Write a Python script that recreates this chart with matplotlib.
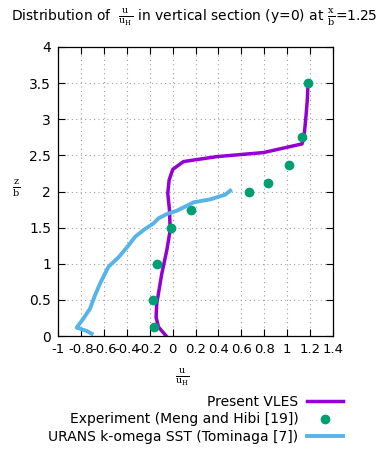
import matplotlib
matplotlib.use("Agg")
import matplotlib.pyplot as plt

plt.rcParams['font.family'] = ['DejaVu Sans']
plt.rcParams['mathtext.fontset'] = 'dejavuserif'
plt.rcParams['axes.unicode_minus'] = False

# Present VLES profile
vles_u = [-0.056, -0.123, -0.144, -0.138, -0.094, -0.05, -0.021, -0.027, -0.042,
          -0.03, 0.002, 0.095, 0.387, 0.794, 1.13, 1.15, 1.164, 1.176, 1.182]
vles_z = [0.0, 0.125, 0.26, 0.45, 0.865, 1.19, 1.466, 1.743, 1.975,
          2.16, 2.307, 2.414, 2.483, 2.539, 2.659, 2.807, 3.038, 3.27, 3.50]

# Experiment (Meng and Hibi)
exp_u = [-0.161, -0.17, -0.132, -0.015, 0.159, 0.663, 0.832, 1.019, 1.13, 1.18]
exp_z = [0.12, 0.5, 1.0, 1.5, 1.75, 2.0, 2.12, 2.37, 2.75, 3.5]

# URANS k-omega SST (Tominaga)
urans_u = [-0.706, -0.75, -0.837, -0.779, -0.72, -0.677, -0.633, -0.56, -0.473,
           -0.394, -0.327, -0.254, -0.167, -0.123, -0.05, 0.037, 0.183, 0.328,
           0.459, 0.503]
urans_z = [0.032, 0.07, 0.116, 0.24, 0.38, 0.564, 0.726, 0.957, 1.087,
           1.235, 1.373, 1.466, 1.558, 1.628, 1.688, 1.734, 1.85, 1.891,
           1.956, 2.011]

x_ticks = [-1, -0.8, -0.6, -0.4, -0.2, 0, 0.2, 0.4, 0.6, 0.8, 1, 1.2, 1.4]
x_tick_labels = ['-1', '-0.8', '-0.6', '-0.4', '-0.2', '0', '0.2', '0.4',
                 '0.6', '0.8', '1', '1.2', '1.4']
y_ticks = [0, 0.5, 1, 1.5, 2, 2.5, 3, 3.5, 4]
y_tick_labels = ['0', '0.5', '1', '1.5', '2', '2.5', '3', '3.5', '4']

W, H = 379, 451
fig = plt.figure(figsize=(W / 100, H / 100), dpi=100)
ax = fig.add_axes([58 / W, 1 - 336 / H, (333 - 58) / W, (336 - 47) / H])

l1, = ax.plot(vles_u, vles_z, color='#9400d3', lw=2.5, label='Present VLES')
l2, = ax.plot(exp_u, exp_z, ls='none', marker='o', ms=6, color='#009e73',
              mec='#009e73', label='Experiment (Meng and Hibi [19])')
l3, = ax.plot(urans_u, urans_z, color='#56b4e9', lw=2.8,
              label='URANS k-omega SST (Tominaga [7])')

ax.set_xlim(-1, 1.4)
ax.set_ylim(0, 4)
ax.set_xticks(x_ticks)
ax.set_xticklabels(x_tick_labels)
ax.set_yticks(y_ticks)
ax.set_yticklabels(y_tick_labels)
ax.tick_params(direction='in', top=True, right=True, length=5, width=0.8,
               labelsize=10, colors='black', pad=5)
ax.tick_params(axis='x', labelsize=9.5)
ax.grid(True, color='#a0a0a0', ls=(0, (1, 3)), lw=0.8)
for s in ax.spines.values():
    s.set_linewidth(0.9)
    s.set_color('black')

# Axis labels as fractions
fig.text(182 / W, 1 - 377 / H, r'$\frac{\mathrm{u}}{\mathrm{u_H}}$', ha='center',
         va='center', fontsize=10)
fig.text(16 / W, 1 - 188 / H, r'$\frac{\mathrm{z}}{\mathrm{b}}$', ha='center',
         va='center', fontsize=10)

# Title
fig.text(11 / W, 1 - 17 / H,
         r'Distribution of  $\frac{\mathrm{u}}{\mathrm{u_H}}$ in vertical section (y=0) at $\frac{\mathrm{x}}{\mathrm{b}}$=1.25',
         ha='left', va='center', fontsize=10)

leg = fig.legend(handles=[l1, l2, l3], loc='upper right',
                 bbox_to_anchor=(350 / W, 1 - 388 / H), frameon=False,
                 markerfirst=False, fontsize=10, handlelength=2.6,
                 labelspacing=0.25, borderpad=0, handletextpad=0.6)

fig.savefig('out.png', dpi=100)
